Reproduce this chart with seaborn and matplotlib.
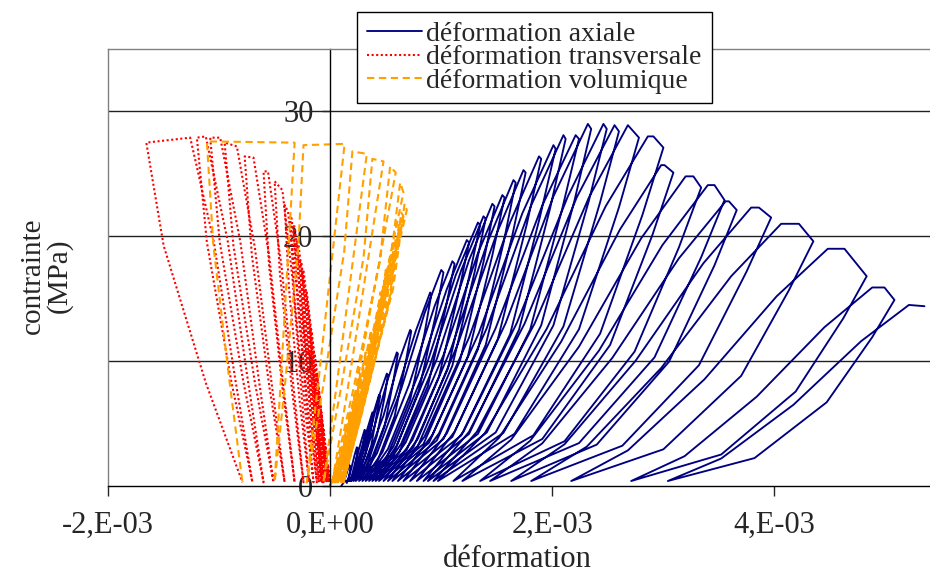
import numpy as np
import pandas as pd
import matplotlib
matplotlib.use('Agg')
import matplotlib.pyplot as plt
import seaborn as sns

# ---- données (déformations en 1E-03, contraintes en MPa) ----
noms = ['déformation axiale', 'déformation transversale', 'déformation volumique']

# déformation axiale, un cycle par colonne
# début du palier (pl), fin du palier / pic (pk), point de décharge (cn), déformation résiduelle (res)
ax_pl_x = [0.17, 0.24, 0.31, 0.38, 0.44, 0.51, 0.60, 0.72, 0.90, 1.00, 1.10, 1.23, 1.33, 1.38, 1.46,
           1.55, 1.65, 1.74, 1.88, 2.01, 2.10, 2.21, 2.32, 2.46, 2.56, 2.68, 2.86, 2.98, 3.20, 3.40,
           3.56, 3.79, 4.06, 4.48, 4.88]
ax_pk_x = [0.17, 0.24, 0.31, 0.38, 0.44, 0.51, 0.60, 0.72, 0.90, 1.00, 1.10, 1.23, 1.33, 1.38, 1.46,
           1.55, 1.65, 1.74, 1.88, 2.01, 2.10, 2.21, 2.32, 2.46, 2.56, 2.68, 2.91, 3.01, 3.27, 3.46,
           3.59, 3.86, 4.22, 4.63, 4.99]
ax_pk_y = [1.7, 3.1, 4.5, 5.9, 7.3, 9.0, 10.7, 12.5, 15.5, 17.3, 18.0, 19.7, 21.1, 21.6, 22.6,
           23.3, 24.5, 25.3, 26.4, 27.3, 28.1, 28.1, 29.0, 29.0, 28.9, 28.9, 28.0, 25.7, 24.8, 24.1,
           22.8, 22.3, 21.0, 19.0, 15.9]
ax_cn_x = [0.18, 0.25, 0.32, 0.39, 0.45, 0.52, 0.61, 0.73, 0.91, 1.02, 1.12, 1.25, 1.35, 1.40, 1.48,
           1.57, 1.67, 1.76, 1.90, 2.03, 2.12, 2.24, 2.35, 2.49, 2.60, 2.78, 3.00, 3.09, 3.34, 3.55,
           3.66, 3.97, 4.35, 4.83, 5.08]
ax_cn_y = [1.6, 3.0, 4.4, 5.8, 7.2, 8.9, 10.6, 12.4, 15.3, 17.1, 17.8, 19.5, 20.9, 21.4, 22.4,
           23.1, 24.3, 25.1, 26.2, 27.0, 27.8, 27.8, 28.6, 28.6, 28.4, 27.9, 27.1, 25.1, 23.9, 22.9,
           22.1, 21.5, 19.6, 16.8, 14.9]
ax_res = [0.14, 0.15, 0.16, 0.17, 0.18, 0.19, 0.21, 0.23, 0.26, 0.29, 0.32, 0.35, 0.38, 0.41, 0.44,
          0.48, 0.52, 0.56, 0.61, 0.66, 0.72, 0.78, 0.84, 0.88, 0.93, 0.97, 1.11, 1.19, 1.35, 1.44,
          1.63, 1.81, 2.17, 2.71, 3.04]
# recharge : déformation lue à 15 %, 45 % et 80 % de la contrainte du pic
ax_up1 = [0.12, 0.16, 0.19, 0.21, 0.23, 0.25, 0.28, 0.32, 0.38, 0.42, 0.47, 0.52, 0.57, 0.60, 0.64,
          0.68, 0.74, 0.79, 0.85, 0.92, 0.98, 1.05, 1.12, 1.20, 1.25, 1.32, 1.39, 1.52, 1.63, 1.80,
          1.91, 2.11, 2.31, 2.68, 3.19]
ax_up2 = [0.14, 0.19, 0.23, 0.27, 0.31, 0.35, 0.40, 0.48, 0.58, 0.64, 0.71, 0.79, 0.86, 0.90, 0.96,
          1.02, 1.09, 1.15, 1.25, 1.34, 1.41, 1.49, 1.58, 1.68, 1.75, 1.84, 1.95, 2.08, 2.24, 2.42,
          2.54, 2.75, 2.98, 3.37, 3.84]
ax_up3 = [0.16, 0.22, 0.28, 0.34, 0.39, 0.44, 0.52, 0.62, 0.77, 0.85, 0.94, 1.05, 1.13, 1.18, 1.25,
          1.33, 1.42, 1.50, 1.62, 1.73, 1.81, 1.91, 2.01, 2.14, 2.22, 2.33, 2.48, 2.61, 2.80, 2.99,
          3.14, 3.36, 3.61, 4.02, 4.45]
# décharge : déformation lue à 80 %, 45 % et 15 % de la contrainte de décharge
ax_dn3 = [0.18, 0.24, 0.30, 0.37, 0.42, 0.49, 0.57, 0.68, 0.85, 0.95, 1.04, 1.16, 1.25, 1.30, 1.38,
          1.46, 1.56, 1.64, 1.77, 1.89, 1.98, 2.09, 2.20, 2.33, 2.43, 2.60, 2.81, 2.90, 3.14, 3.34,
          3.46, 3.75, 4.13, 4.62, 4.88]
ax_dn2 = [0.17, 0.22, 0.27, 0.32, 0.37, 0.42, 0.49, 0.58, 0.72, 0.80, 0.88, 0.98, 1.06, 1.10, 1.17,
          1.24, 1.33, 1.40, 1.51, 1.62, 1.70, 1.80, 1.90, 2.01, 2.10, 2.24, 2.43, 2.52, 2.74, 2.92,
          3.05, 3.32, 3.70, 4.19, 4.47]
ax_dn1 = [0.15, 0.19, 0.22, 0.25, 0.28, 0.32, 0.36, 0.42, 0.51, 0.57, 0.62, 0.69, 0.75, 0.79, 0.84,
          0.89, 0.96, 1.02, 1.10, 1.18, 1.25, 1.33, 1.41, 1.49, 1.56, 1.66, 1.83, 1.91, 2.11, 2.24,
          2.40, 2.63, 3.00, 3.52, 3.82]
# dernière recharge (fin d'essai)
ax_fin_x = [3.52, 4.17, 4.78, 5.21, 5.35]
ax_fin_y = [2.2, 6.5, 11.6, 14.5, 14.4]

# déformation transversale : sommet en recharge (a), fin du palier (b), résiduelle
tr_a_x = [-0.02, -0.04, -0.06, -0.08, -0.10, -0.12, -0.14, -0.17, -0.21, -0.24, -0.26, -0.29, -0.32,
          -0.35, -0.38, -0.43, -0.56, -0.69, -0.84, -0.99, -1.12, -1.26]
tr_a_y = [1.7, 3.1, 4.5, 5.9, 7.3, 9.0, 10.7, 12.5, 15.5, 17.3, 18.0, 19.7, 20.8, 21.6, 22.0, 23.7,
          25.2, 26.3, 27.2, 27.9, 28.0, 27.9]
tr_b_x = [-0.02, -0.04, -0.06, -0.08, -0.10, -0.12, -0.15, -0.18, -0.22, -0.25, -0.27, -0.30, -0.33,
          -0.36, -0.41, -0.50, -0.60, -0.77, -0.95, -1.08, -1.20, -1.655]
tr_b_y = [1.7, 3.1, 4.5, 5.9, 7.3, 9.0, 10.7, 12.5, 15.5, 17.3, 18.0, 19.7, 20.8, 21.6, 22.5, 24.4,
          25.2, 26.4, 27.5, 27.9, 27.9, 27.5]
tr_res = [-0.005, -0.01, -0.015, -0.02, -0.025, -0.03, -0.04, -0.05, -0.06, -0.07, -0.08, -0.10,
          -0.12, -0.15, -0.19, -0.24, -0.32, -0.41, -0.51, -0.60, -0.70, -0.79]
# recharge à 30 % et 70 % du sommet, décharge à 70 % et 30 %
tr_up1 = [-0.005, -0.014, -0.024, -0.033, -0.042, -0.051, -0.060, -0.075, -0.093, -0.109, -0.121,
          -0.137, -0.159, -0.182, -0.212, -0.255, -0.326, -0.420, -0.526, -0.640, -0.740, -0.851]
tr_up2 = [-0.012, -0.027, -0.041, -0.055, -0.070, -0.084, -0.098, -0.121, -0.149, -0.172, -0.188,
          -0.210, -0.236, -0.263, -0.293, -0.339, -0.438, -0.549, -0.677, -0.808, -0.922, -1.047]
tr_dn2 = [-0.017, -0.035, -0.052, -0.069, -0.087, -0.104, -0.130, -0.157, -0.191, -0.218, -0.236,
          -0.264, -0.292, -0.322, -0.370, -0.453, -0.550, -0.705, -0.871, -0.994, -1.110, -1.499]
tr_dn1 = [-0.011, -0.021, -0.032, -0.043, -0.054, -0.064, -0.082, -0.099, -0.121, -0.138, -0.152,
          -0.176, -0.200, -0.230, -0.274, -0.339, -0.426, -0.547, -0.677, -0.782, -0.890, -1.119]

# déformation volumique
vo_a_x = [0.06, 0.10, 0.14, 0.18, 0.22, 0.27, 0.32, 0.37, 0.46, 0.51, 0.54, 0.59, 0.63, 0.66, 0.69,
          0.66, 0.59, 0.48, 0.33, 0.13, -0.32]
vo_a_y = [1.7, 3.1, 4.5, 5.9, 7.3, 9.0, 10.7, 12.5, 15.5, 17.3, 18.0, 19.7, 20.8, 21.6, 22.1,
          23.5, 25.1, 26.0, 26.6, 27.4, 27.5]
vo_b_x = [0.06, 0.10, 0.14, 0.18, 0.22, 0.27, 0.32, 0.37, 0.45, 0.50, 0.53, 0.58, 0.62, 0.64, 0.67,
          0.63, 0.54, 0.38, 0.20, -0.24, -1.11]
vo_b_y = [1.7, 3.1, 4.5, 5.9, 7.3, 9.0, 10.7, 12.5, 15.5, 17.3, 18.1, 19.8, 21.0, 21.9, 22.6,
          24.3, 25.6, 26.2, 26.8, 27.3, 27.6]
vo_res = [0.02, 0.03, 0.04, 0.05, 0.06, 0.07, 0.08, 0.09, 0.10, 0.11, 0.12, 0.12, 0.12, 0.11, 0.10,
          0.07, 0.02, -0.06, -0.21, -0.50, -0.79]
vo_up1 = [0.018, 0.044, 0.063, 0.082, 0.101, 0.123, 0.145, 0.167, 0.201, 0.223, 0.239, 0.261, 0.273,
          0.282, 0.284, 0.268, 0.226, 0.158, 0.057, -0.108, -0.446]
vo_up2 = [0.042, 0.076, 0.107, 0.138, 0.169, 0.207, 0.245, 0.283, 0.349, 0.387, 0.411, 0.449, 0.477,
          0.498, 0.516, 0.492, 0.434, 0.342, 0.213, 0.028, -0.374]
vo_dn2 = [0.053, 0.087, 0.122, 0.157, 0.191, 0.234, 0.277, 0.320, 0.387, 0.430, 0.456, 0.497, 0.530,
          0.545, 0.567, 0.529, 0.446, 0.301, 0.126, -0.287, -1.052]
vo_dn1 = [0.034, 0.055, 0.076, 0.097, 0.118, 0.142, 0.166, 0.191, 0.226, 0.250, 0.268, 0.286, 0.300,
          0.301, 0.305, 0.272, 0.207, 0.098, -0.062, -0.406, -0.905]

bas_ax = 0.4   # contrainte au bas des boucles
bas_tv = 0.3

xticks = [-2, 0, 2, 4]
xtick_labels = ['-2,E-03', '0,E+00', '2,E-03', '4,E-03']
yticks = [0, 10, 20, 30]


def chemin_axial():
    xs, ys = [0.10], [0.0]
    for k in range(len(ax_pk_x)):
        p, c = ax_pk_y[k], ax_cn_y[k]
        xs += [ax_up1[k], ax_up2[k], ax_up3[k], ax_pl_x[k], ax_pk_x[k], ax_cn_x[k],
               ax_dn3[k], ax_dn2[k], ax_dn1[k], ax_res[k]]
        ys += [0.15 * p, 0.45 * p, 0.80 * p, p, p, c, 0.80 * c, 0.45 * c, 0.15 * c, bas_ax]
    return xs + ax_fin_x, ys + ax_fin_y


def chemin_boucles(up1, up2, a_x, a_y, b_x, b_y, dn2, dn1, res):
    xs, ys = [0.0], [0.0]
    for k in range(len(a_x)):
        xs += [up1[k], up2[k], a_x[k], b_x[k], dn2[k], dn1[k], res[k]]
        ys += [0.3 * a_y[k], 0.7 * a_y[k], a_y[k], b_y[k], 0.7 * b_y[k], 0.3 * b_y[k], bas_tv]
    return xs, ys


x1, y1 = chemin_axial()
x2, y2 = chemin_boucles(tr_up1, tr_up2, tr_a_x, tr_a_y, tr_b_x, tr_b_y, tr_dn2, tr_dn1, tr_res)
x3, y3 = chemin_boucles(vo_up1, vo_up2, vo_a_x, vo_a_y, vo_b_x, vo_b_y, vo_dn2, vo_dn1, vo_res)

df = pd.DataFrame({
    'deformation': x1 + x2 + x3,
    'contrainte': y1 + y2 + y3,
    'serie': [noms[0]] * len(x1) + [noms[1]] * len(x2) + [noms[2]] * len(x3),
})

sns.set_style('white')
plt.rcParams['font.family'] = ['Liberation Serif', 'DejaVu Serif']

fig = plt.figure(figsize=(9.3, 5.74), dpi=100)
ax = fig.add_axes([108 / 930, 88 / 574, 822 / 930, 437 / 574])

couleurs = {noms[0]: '#000080', noms[1]: '#FF0000', noms[2]: '#FFA000'}
tirets = {noms[0]: '', noms[1]: (1, 1.2), noms[2]: (3.5, 2.2)}
sns.lineplot(data=df, x='deformation', y='contrainte', hue='serie', style='serie',
             hue_order=noms, style_order=noms, palette=couleurs, dashes=tirets,
             sort=False, estimator=None, linewidth=1.5, legend=False, ax=ax)
lignes = ax.lines[:3]
lignes[0].set_linewidth(1.35)

ax.set_xlim(-2, 5.4)
ax.set_ylim(0, 35)
ax.set_xticks(xticks)
ax.set_xticklabels(xtick_labels)
ax.set_yticks(yticks)
ax.set_xlabel('')
ax.set_ylabel('')

for y in yticks[1:]:
    ax.axhline(y, color='#202020', lw=1.0, zorder=0)

ax.spines['left'].set_position(('data', 0))
ax.spines['left'].set_color('black')
ax.spines['bottom'].set_color('black')
ax.spines['right'].set_position(('data', -2))
ax.spines['right'].set_color('#808080')
ax.spines['top'].set_color('#808080')
for s in ax.spines.values():
    s.set_linewidth(1.0)

ax.tick_params(axis='x', direction='out', length=7, width=1, pad=11, labelsize=22, bottom=True)
ax.tick_params(axis='y', direction='out', length=6, width=1, pad=6, labelsize=22, left=True)

fig.text(0.05, 0.52, 'contrainte\n(MPa)', rotation=90, ha='center', va='center',
         fontsize=21, linespacing=1.0, multialignment='center')
fig.text(0.556, 0.0, 'déformation', ha='center', va='bottom', fontsize=22)

leg = ax.legend(lignes, noms, loc='upper left', bbox_to_anchor=(357 / 930, 1 - 12 / 574),
                bbox_transform=fig.transFigure, fontsize=20, frameon=True, fancybox=False,
                framealpha=1, edgecolor='black', borderpad=0.35, labelspacing=-0.08,
                handlelength=2.0, handletextpad=0.15, borderaxespad=0)
leg.get_frame().set_linewidth(1.0)

fig.savefig('out.png', dpi=100)
